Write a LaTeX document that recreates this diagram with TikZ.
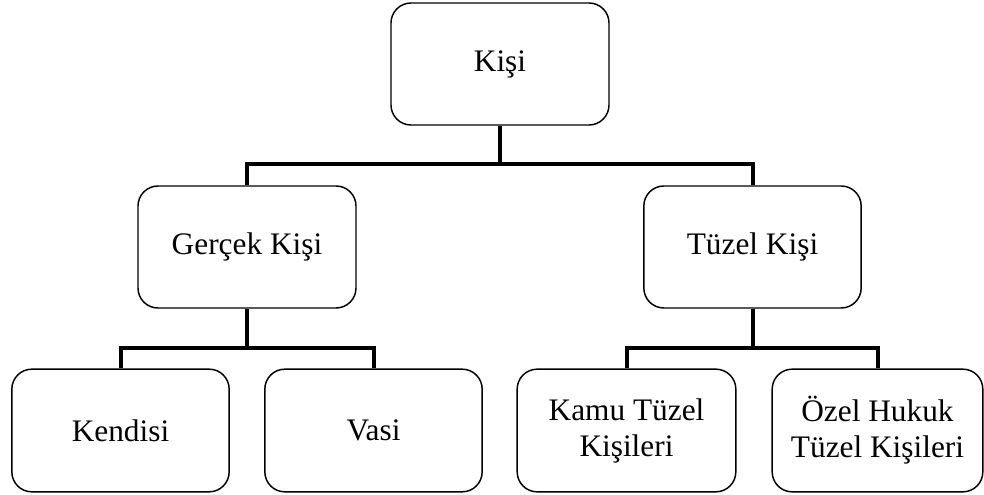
\documentclass[tikz,border=0pt]{standalone}
\usepackage{fontspec}
\setmainfont{Liberation Serif}
\begin{document}
\begin{tikzpicture}[x=0.75pt,y=-0.75pt,
  box/.style={draw, line width=1.1pt, rounded corners=15pt, align=center, inner sep=0pt,
    font=\fontsize{23.5}{27}\selectfont, minimum height=91.5pt},
  conn/.style={line width=3pt, line join=miter}]
\useasboundingbox (0,0) rectangle (984,495);
\node[box, minimum width=163.5pt] (top) at (500,64) {Kişi};
\node[box, minimum width=163.5pt] (gercek) at (247,247) {Gerçek Kişi};
\node[box, minimum width=163pt] (tuzel) at (752.5,247) {Tüzel Kişi};
\node[box, minimum width=163pt, minimum height=92pt] (kendisi) at (120.5,430.5) {Kendisi};
\node[box, minimum width=163pt, minimum height=92pt] (vasi) at (373.5,430.5) {Vasi};
\node[box, minimum width=164pt, minimum height=92pt] (kamu) at (626.5,430.5) {Kamu Tüzel\\Kişileri};
\node[box, minimum width=158pt, minimum height=92pt] (ozel) at (877.5,430.5) {Özel Hukuk\\Tüzel Kişileri};
\coordinate (b1) at (0,164);
\coordinate (b2) at (0,348);
\draw[conn] (top.south) -- (top.south |- b1);
\draw[conn] (gercek.north) -- (gercek.north |- b1) -- (tuzel.north |- b1) -- (tuzel.north);
\draw[conn] (gercek.south) -- (gercek.south |- b2);
\draw[conn] (kendisi.north) -- (kendisi.north |- b2) -- (vasi.north |- b2) -- (vasi.north);
\draw[conn] (tuzel.south) -- (tuzel.south |- b2);
\draw[conn] (kamu.north) -- (kamu.north |- b2) -- (ozel.north |- b2) -- (ozel.north);
\end{tikzpicture}
\end{document}
